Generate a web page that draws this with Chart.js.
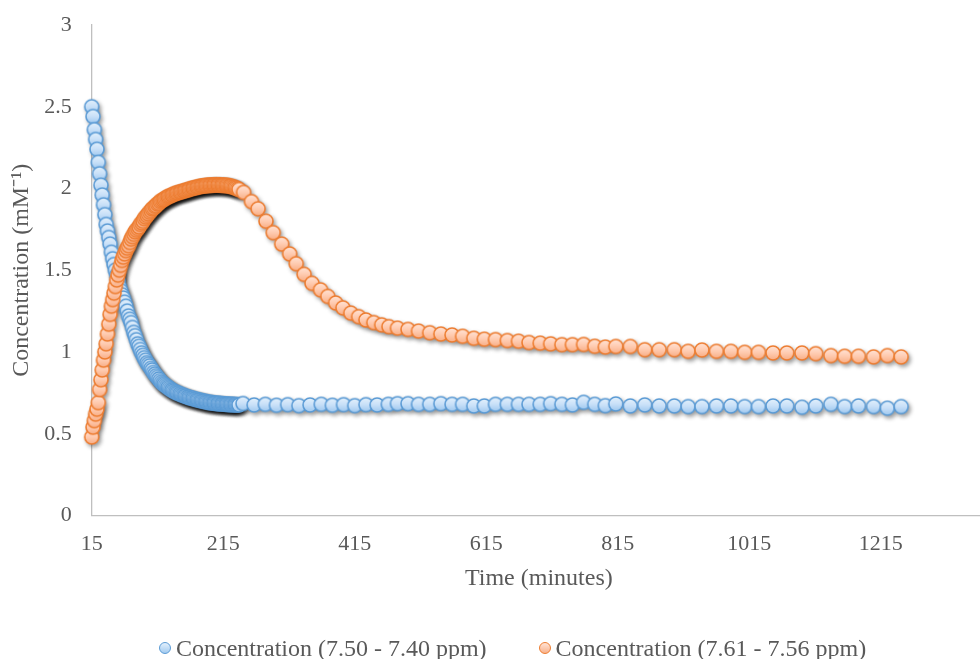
<!DOCTYPE html>
<html>
<head>
<meta charset="utf-8">
<title>Concentration vs time</title>
<script src="https://cdn.jsdelivr.net/npm/chart.js@4.4.1/dist/chart.umd.min.js"></script>
<style>
    body { margin: 0; background: #fff; overflow: hidden; }
    .wrap { position: relative; width: 980px; height: 659px; overflow: hidden; }
    .legend {
        position: absolute; left: 159px; top: 634px;
        display: flex; line-height: 28px; white-space: nowrap;
        font-family: 'Liberation Serif', 'Times New Roman', serif; font-size: 24px; color: #595959;
    }
    .legend-item { display: flex; align-items: center; margin-right: 52px; }
    .swatch { width: 10px; height: 10px; border-radius: 50%; border: 1.5px solid; margin-right: 5px; }
    .swatch.blue { border-color: #5b9bd5; background: linear-gradient(#e3f0fc, #a3cbf0); }
    .swatch.orange { border-color: #ed7d31; background: linear-gradient(#ffe3d5, #f9b28c); }
</style>
</head>
<body>
<div class="wrap">
    <!-- plot area runs a little past the visible right edge -->
    <canvas id="myChart" width="994" height="659"></canvas>
    <div class="legend" id="legend"></div>
</div>
<script>
// sampling times (minutes): fast run at the start, slower afterwards
const earlyTimes = [15, 17, 19, 21, 23, 25, 27, 29, 31, 33, 35, 37, 39, 41, 43, 45, 47, 49, 51, 53,
    55, 57, 59, 61, 63, 65, 67, 69, 71, 73, 75, 77, 79, 81, 83, 85, 87, 89, 91, 93,
    95, 97, 99, 101, 103, 105, 107, 109, 111, 113, 115, 117, 119, 121, 123, 125, 127, 129, 131, 133,
    135, 137, 139, 141, 143, 145, 147, 149, 151, 153, 155, 157, 159, 161, 163, 165, 167, 169, 171, 173,
    175, 177, 179, 181, 183, 185, 187, 189, 191, 193, 195, 197, 199, 201, 203, 205, 207, 209, 211, 213,
    215, 217, 219, 221, 223, 225, 227, 229, 231, 233, 235, 237, 239];

const blueLateTimes = [245, 262, 279, 296, 313, 330, 347, 364, 381, 398, 415, 432, 449, 466,
    480, 496, 512, 529, 546, 563, 579, 596, 612, 629, 647, 664, 680, 697, 713, 730, 746, 763, 780, 796,
    812, 834, 856, 878, 901, 922, 943, 965, 987, 1008, 1029, 1051, 1072, 1095, 1116, 1139, 1160, 1181, 1204, 1225, 1246];

const orangeLateTimes = [246, 258, 268, 280, 291, 304, 316, 326, 338, 350, 363, 374, 386, 397, 409, 421, 432, 444, 456, 467,
    480, 496, 512, 529, 546, 563, 579, 596, 612, 629, 647, 664, 680, 697, 713, 730, 746, 763, 780, 796,
    812, 834, 856, 878, 901, 922, 943, 965, 987, 1008, 1029, 1051, 1072, 1095, 1116, 1139, 1160, 1181, 1204, 1225, 1246];

// Concentration (7.50 - 7.40 ppm)
const blueEarly = [2.50, 2.44, 2.36, 2.30, 2.24, 2.16, 2.09, 2.02, 1.96, 1.90,
    1.84, 1.78, 1.74, 1.70, 1.66, 1.61, 1.57, 1.535, 1.50, 1.47,
    1.435, 1.40, 1.375, 1.35, 1.33, 1.305, 1.28, 1.25, 1.22, 1.20,
    1.18, 1.15, 1.12, 1.10, 1.075, 1.05, 1.035, 1.015, 0.995, 0.98,
    0.965, 0.95, 0.935, 0.925, 0.915, 0.90, 0.89, 0.875, 0.865, 0.855,
    0.845, 0.835, 0.825, 0.815, 0.808, 0.802, 0.796, 0.79, 0.784, 0.778,
    0.772, 0.767, 0.762, 0.758, 0.754, 0.75, 0.747, 0.744, 0.74, 0.737,
    0.734, 0.731, 0.728, 0.725, 0.722, 0.72, 0.718, 0.716, 0.713, 0.711,
    0.709, 0.707, 0.705, 0.703, 0.701, 0.699, 0.698, 0.696, 0.694, 0.692,
    0.691, 0.69, 0.689, 0.688, 0.687, 0.686, 0.685, 0.685, 0.684, 0.683,
    0.683, 0.682, 0.681, 0.681, 0.68, 0.68, 0.679, 0.679, 0.678, 0.678,
    0.677, 0.677, 0.676];
const blueLate = [0.685, 0.676, 0.68, 0.674, 0.678, 0.672, 0.676, 0.68, 0.674, 0.678, 0.672, 0.678, 0.676, 0.68,
    0.684, 0.684, 0.68, 0.68, 0.684, 0.68, 0.68, 0.67, 0.67, 0.68, 0.68, 0.68, 0.68, 0.68, 0.684, 0.68, 0.676, 0.692, 0.68, 0.672,
    0.682, 0.67, 0.676, 0.67, 0.67, 0.666, 0.666, 0.67, 0.67, 0.666, 0.666, 0.67, 0.67, 0.662, 0.67, 0.68, 0.666, 0.67, 0.666, 0.656, 0.666];

// Concentration (7.61 - 7.56 ppm)
const orangeEarly = [0.48, 0.54, 0.58, 0.62, 0.65, 0.69, 0.77, 0.83, 0.89, 0.95,
    1.00, 1.05, 1.11, 1.17, 1.23, 1.28, 1.32, 1.36, 1.40, 1.44,
    1.47, 1.50, 1.53, 1.56, 1.58, 1.60, 1.62, 1.635, 1.65, 1.67,
    1.69, 1.705, 1.72, 1.735, 1.745, 1.755, 1.765, 1.78, 1.79, 1.80,
    1.815, 1.825, 1.835, 1.845, 1.855, 1.865, 1.875, 1.88, 1.89, 1.895,
    1.905, 1.91, 1.92, 1.925, 1.93, 1.935, 1.94, 1.945, 1.95, 1.953,
    1.956, 1.96, 1.964, 1.968, 1.97, 1.973, 1.976, 1.978, 1.98, 1.983,
    1.985, 1.988, 1.99, 1.992, 1.995, 1.998, 2.00, 2.002, 2.004, 2.006,
    2.008, 2.01, 2.012, 2.014, 2.015, 2.016, 2.017, 2.018, 2.019, 2.02,
    2.02, 2.021, 2.021, 2.022, 2.022, 2.022, 2.022, 2.022, 2.021, 2.021,
    2.02, 2.02, 2.019, 2.018, 2.017, 2.015, 2.013, 2.011, 2.008, 2.005,
    2.002, 1.998, 1.994];
const orangeLate = [1.976, 1.92, 1.876, 1.80, 1.73, 1.66, 1.60, 1.54, 1.475, 1.42, 1.38, 1.34, 1.30, 1.27, 1.238, 1.216, 1.196, 1.18, 1.166, 1.155,
    1.146, 1.138, 1.128, 1.118, 1.11, 1.104, 1.096, 1.084, 1.078, 1.076, 1.07, 1.066, 1.058, 1.054, 1.05, 1.045, 1.045, 1.046, 1.035, 1.03,
    1.034, 1.034, 1.014, 1.014, 1.014, 1.004, 1.012, 1.004, 1.004, 0.998, 0.998, 0.994, 0.994, 0.994, 0.99, 0.978, 0.974, 0.974, 0.97, 0.978, 0.97];

const seriesNames = ['Concentration (7.50 - 7.40 ppm)', 'Concentration (7.61 - 7.56 ppm)'];
const xTicks = [15, 215, 415, 615, 815, 1015, 1215];
const yTicks = [0, 0.5, 1, 1.5, 2, 2.5, 3];

const serif = "'Liberation Serif', 'Times New Roman', serif";
const textColor = '#595959';
const axisColor = '#bfbfbf';
const markerSize = 7;

function toPoints(times, values) {
    return times.map((t, i) => ({ x: t, y: values[i] }));
}

// round marker with a top-to-bottom gradient, drawn once and reused as pointStyle
function makeMarker(stroke, top, mid, bottom) {
    const c = document.createElement('canvas');
    c.width = 22;
    c.height = 22;
    const g = c.getContext('2d');
    const grad = g.createLinearGradient(0, 11 - markerSize, 0, 11 + markerSize);
    grad.addColorStop(0, top);
    grad.addColorStop(0.5, mid);
    grad.addColorStop(1, bottom);
    g.beginPath();
    g.arc(11, 11, markerSize, 0, Math.PI * 2);
    g.fillStyle = grad;
    g.fill();
    g.lineWidth = 1.6;
    g.strokeStyle = stroke;
    g.stroke();
    return c;
}

const blueMarker = makeMarker('#5b9bd5', '#e3f0fc', '#c8e0f8', '#9fc8ef');
const orangeMarker = makeMarker('#ed7d31', '#ffe3d5', '#ffcbb0', '#f8ae86');

// soft drop shadow under every marker, painted before the markers themselves
const markerShadow = {
    id: 'markerShadow',
    beforeDatasetsDraw(chart) {
        const ctx = chart.ctx;
        const shift = 3000;
        ctx.save();
        ctx.shadowColor = 'rgba(0, 0, 0, 0.4)';
        ctx.shadowBlur = 4;
        ctx.shadowOffsetX = shift + 2;
        ctx.shadowOffsetY = 2.5;
        ctx.fillStyle = '#000';
        chart.data.datasets.forEach((ds, i) => {
            chart.getDatasetMeta(i).data.forEach(pt => {
                ctx.beginPath();
                ctx.arc(pt.x - shift, pt.y, markerSize + 0.7, 0, Math.PI * 2);
                ctx.fill();
            });
        });
        ctx.restore();
    }
};

const ctx = document.getElementById('myChart');

new Chart(ctx, {
    type: 'scatter',
    data: {
        datasets: [{
            label: seriesNames[0],
            data: toPoints(earlyTimes.concat(blueLateTimes), blueEarly.concat(blueLate)),
            pointStyle: blueMarker,
            pointRadius: markerSize,
            clip: false,
            order: 1
        }, {
            label: seriesNames[1],
            data: toPoints(earlyTimes.concat(orangeLateTimes), orangeEarly.concat(orangeLate)),
            pointStyle: orangeMarker,
            pointRadius: markerSize,
            clip: false,
            order: 0
        }]
    },
    options: {
        responsive: false,
        animation: false,
        events: [],
        layout: { padding: { left: 4, top: 25, right: 0, bottom: 0 } },
        plugins: {
            legend: { display: false },
            tooltip: { enabled: false }
        },
        scales: {
            x: {
                type: 'linear',
                min: 15,
                max: 1375,
                afterBuildTicks: axis => { axis.ticks = xTicks.map(v => ({ value: v })); },
                afterFit: axis => {
                    axis.height = 143.5;
                    axis.paddingLeft = 0;
                    axis.paddingRight = 0;
                },
                grid: { display: false, drawTicks: false },
                border: { color: axisColor, width: 1.3 },
                ticks: {
                    color: textColor,
                    font: { family: serif, size: 22 },
                    padding: 16,
                    maxRotation: 0,
                    autoSkip: false,
                    callback: v => String(v)
                },
                title: {
                    display: true,
                    text: 'Time (minutes)',
                    color: textColor,
                    font: { family: serif, size: 24 },
                    padding: { top: 4, bottom: 66 }
                }
            },
            y: {
                min: 0,
                max: 3,
                afterBuildTicks: axis => { axis.ticks = yTicks.map(v => ({ value: v })); },
                afterFit: axis => {
                    axis.width = 87.7;
                    axis.paddingTop = 12;
                    axis.paddingBottom = 12;
                },
                grid: { display: false, drawTicks: false },
                border: { color: axisColor, width: 1.3 },
                ticks: {
                    color: textColor,
                    font: { family: serif, size: 22 },
                    padding: 20,
                    callback: v => String(v)
                },
                title: {
                    display: true,
                    text: 'Concentration (mM\u207B\u00B9)',
                    color: textColor,
                    font: { family: serif, size: 24 },
                    padding: { top: 3.5, bottom: 4 }
                }
            }
        }
    },
    plugins: [markerShadow]
});

// legend under the plot
const legendEl = document.getElementById('legend');
const swatchClass = ['blue', 'orange'];
legendEl.innerHTML = seriesNames.map((name, i) => `
    <div class="legend-item">
        <span class="swatch ${swatchClass[i]}"></span>
        <span>${name}</span>
    </div>
`).join('');
</script>
</body>
</html>
